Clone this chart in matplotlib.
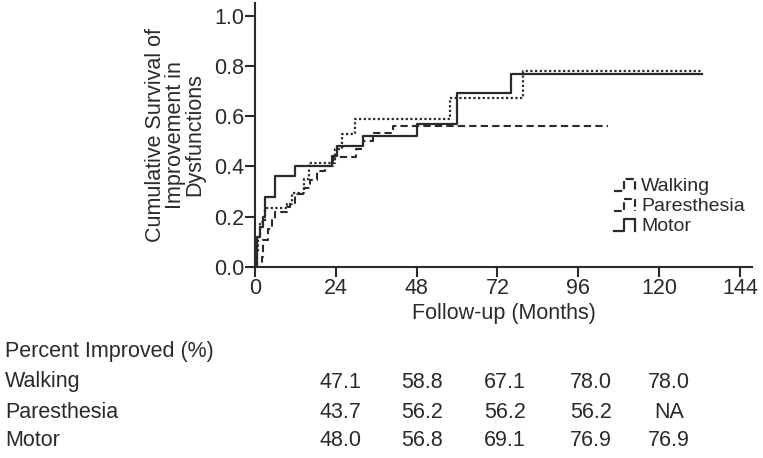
import numpy as np
import matplotlib
matplotlib.use("Agg")
import matplotlib.pyplot as plt
from matplotlib.lines import Line2D
from matplotlib.legend_handler import HandlerBase

plt.rcParams['font.family'] = ['Liberation Sans', 'DejaVu Sans']

# Kaplan-Meier style step data (months, cumulative improvement)
walk_t = [0, 0.5, 1.0, 1.5, 3.0, 9.5, 11.0, 14.5, 16.0, 23.8, 25.7, 29.7, 58.0, 79.5, 133.0]
walk_y = [0, 0.06, 0.12, 0.18, 0.235, 0.25, 0.294, 0.35, 0.412, 0.471, 0.53, 0.588, 0.671, 0.780, 0.780]

par_t = [0, 2.0, 2.5, 4.0, 5.0, 6.0, 9.5, 10.5, 12.0, 14.5, 16.3, 18.3, 20.8, 23.3, 30.0, 32.0, 35.1, 41.0, 104.8]
par_y = [0, 0.04, 0.107, 0.153, 0.187, 0.22, 0.24, 0.254, 0.29, 0.313, 0.347, 0.38, 0.40, 0.437, 0.47, 0.50, 0.533, 0.562, 0.562]

mot_t = [0, 0.5, 1.5, 2.3, 3.0, 5.9, 11.9, 23.0, 24.3, 32.2, 48.0, 60.0, 76.0, 132.8]
mot_y = [0, 0.12, 0.16, 0.20, 0.28, 0.363, 0.403, 0.443, 0.48, 0.523, 0.568, 0.691, 0.769, 0.769]

xticks = [0, 24, 48, 72, 96, 120, 144]
yticks = [0.0, 0.2, 0.4, 0.6, 0.8, 1.0]

row_names = ["Walking", "Paresthesia", "Motor"]
table_vals = [["47.1", "58.8", "67.1", "78.0", "78.0"],
              ["43.7", "56.2", "56.2", "56.2", "NA"],
              ["48.0", "56.8", "69.1", "76.9", "76.9"]]

ink = '#2a2a2a'
fs = 15.5
W, H = 763, 458


class StepHandler(HandlerBase):
    def create_artists(self, legend, orig_handle, xdescent, ydescent,
                       width, height, fontsize, trans):
        xs = np.array([0, 0.4, 0.4, 0.85, 0.85]) * width - xdescent
        ys = np.array([0.05, 0.05, 0.9, 0.9, 0.05]) * height - ydescent
        ln = Line2D(xs, ys, color=orig_handle.get_color(),
                    lw=orig_handle.get_linewidth(),
                    linestyle=orig_handle.get_linestyle())
        ln.set_transform(trans)
        return [ln]


fig = plt.figure(figsize=(W / 100, H / 100), dpi=100)
ax = fig.add_axes([255 / W, 191 / H, (752 - 255) / W, (455 - 191) / H])

l1, = ax.step(walk_t, walk_y, where='post', color=ink, lw=1.6, linestyle=(0, (1, 1.1)))
l2, = ax.step(par_t, par_y, where='post', color=ink, lw=1.5, linestyle=(0, (3.5, 2)))
l3, = ax.step(mot_t, mot_y, where='post', color=ink, lw=1.6)

ax.set_xlim(0, 147.6)
ax.set_ylim(0, 1.05)
ax.set_xticks(xticks)
ax.set_yticks(yticks)
ax.set_yticklabels([f"{v:.1f}" for v in yticks])
for s in ['top', 'right']:
    ax.spines[s].set_visible(False)
for s in ['left', 'bottom']:
    ax.spines[s].set_linewidth(1.5)
    ax.spines[s].set_color(ink)
ax.tick_params(direction='out', length=7, width=1.5, color=ink,
               labelsize=fs, labelcolor=ink, pad=1)

ax.set_xlabel("Follow-up (Months)", fontsize=fs, color=ink, labelpad=3)
ax.set_ylabel("Cumulative Survival of\nImprovement in\nDysfunctions",
              fontsize=fs, color=ink, linespacing=0.92, labelpad=6)

ax.legend([l1, l2, l3], ["Walking", "Paresthesia", "Motor"],
          handler_map={Line2D: StepHandler()},
          loc='upper left', bbox_to_anchor=(604 / W, 1 - 168 / H),
          bbox_transform=fig.transFigure, frameon=False,
          fontsize=14, handlelength=1.3, handletextpad=0.1,
          labelspacing=0.12, borderpad=0, labelcolor=ink)

# percent improved table
fig.text(5 / W, 1 - 352 / H, "Percent Improved (%)", fontsize=fs,
         color=ink, va='center', ha='left')
col_x = [340, 422, 505, 591, 669]
row_y = [382, 412, 441]
for name, vals, ry in zip(row_names, table_vals, row_y):
    fig.text(5 / W, 1 - ry / H, name, fontsize=fs, color=ink,
             va='center', ha='left')
    for cx, v in zip(col_x, vals):
        fig.text(cx / W, 1 - ry / H, v, fontsize=fs, color=ink,
                 va='center', ha='center')

fig.savefig("out.png", dpi=100)
